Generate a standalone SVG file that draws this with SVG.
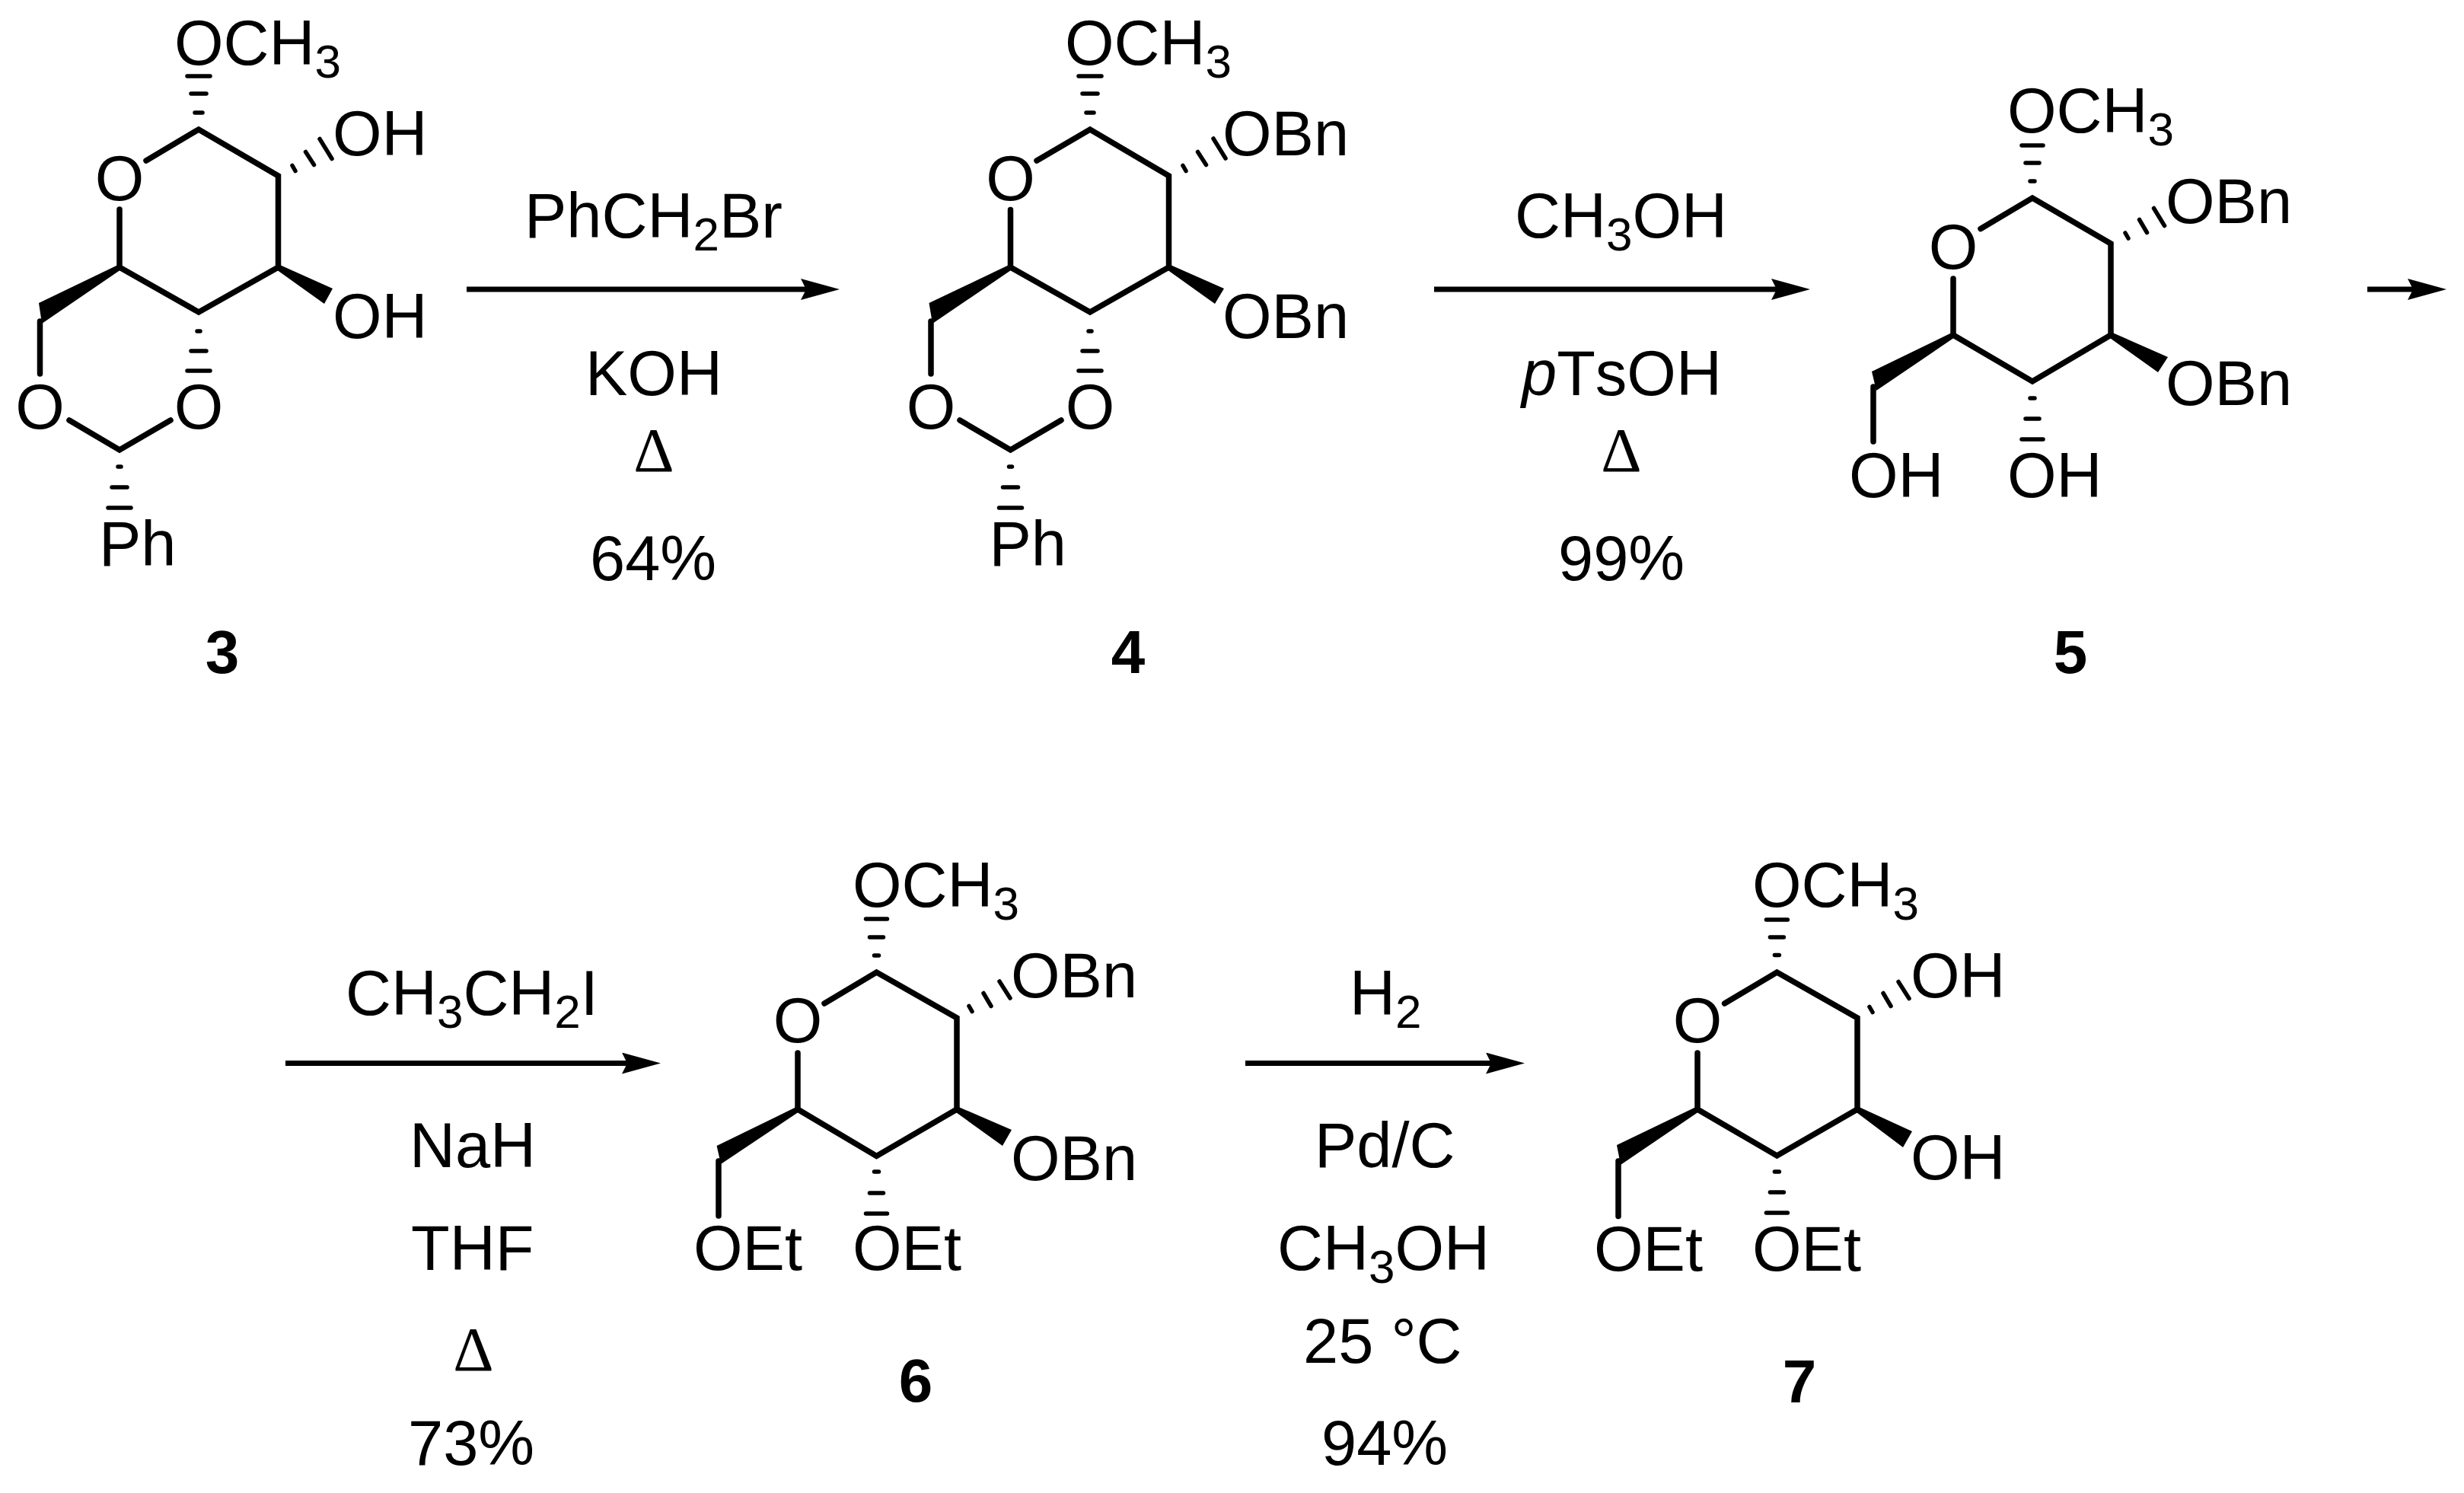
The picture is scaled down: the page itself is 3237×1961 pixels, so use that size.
<svg xmlns="http://www.w3.org/2000/svg" width="3237" height="1961" viewBox="0 0 3237 1961">
<style>
text{font-family:"Liberation Sans",Arial,sans-serif;font-size:83px;fill:#000;font-kerning:none}
.m{text-anchor:middle}
.lbl{font-weight:bold;font-size:80px;text-anchor:middle}
.d{font-family:"Liberation Serif","Times New Roman",serif;text-anchor:middle}
.s{font-size:62px}
.i{font-style:italic}
.b{fill:none;stroke:#000;stroke-width:7.5;stroke-linecap:round;stroke-linejoin:miter}
.h{fill:none;stroke:#000;stroke-width:5.5;stroke-linecap:round}
.w{fill:#000;stroke:none}
.a{fill:none;stroke:#000;stroke-width:7;marker-end:url(#head)}
</style>
<defs>
<marker id="head" markerUnits="userSpaceOnUse" markerWidth="51" markerHeight="28" viewBox="0 0 51 28" refX="21" refY="14" orient="auto">
<polygon points="0,0 51,14 0,28 7,14" fill="#000"/>
</marker>
</defs>
<rect width="3237" height="1961" fill="#fff"/>

<g id="connectors">
<line class="a" x1="613" y1="380" x2="1073" y2="380"/>
<line class="a" x1="1884" y1="380" x2="2348" y2="380"/>
<line class="a" x1="3110" y1="380" x2="3184" y2="380"/>
<line class="a" x1="375" y1="1396.5" x2="838" y2="1396.5"/>
<line class="a" x1="1636" y1="1396.5" x2="1973" y2="1396.5"/>
</g>

<g id="compound-3">
<polyline class="b" points="192,211 261,170 365.5,231 365.5,351 261,410 157,351 157,275"/>
<polyline class="b" points="91,552 157,591 224,552"/>
<line class="b" x1="52.5" y1="422" x2="52.5" y2="491"/>
<polygon class="w" points="157,347 51,398 55,425 159,354"/>
<polygon class="w" points="365.5,347 437,379 426,399 363,354"/>
<path class="h" d="M256,148H266M251,123H271M246,100H276M259,435H263M251,461H271M246,487H276M155,613H159M147,640H167M142,667H172M384,217.500L388,224.500M401.500,199.500L412.500,216.500M420,182.500L436,208.500"/>
<text x="229" y="85">OCH<tspan class="s" dy="17">3</tspan></text>
<text x="437" y="204">OH</text>
<text x="437" y="444">OH</text>
<text class="m" x="157" y="263">O</text>
<text class="m" x="52.500" y="563">O</text>
<text class="m" x="261" y="563">O</text>
<text x="130" y="743">Ph</text>
<text class="lbl" x="292" y="884">3</text>
</g>

<g id="compound-4">
<polyline class="b" points="1362,211 1432,170 1535.500,231 1535.500,351 1432,410 1327.500,351 1327.500,275.500"/>
<polyline class="b" points="1261,552 1327.500,591 1394,552"/>
<line class="b" x1="1223" y1="422" x2="1223" y2="491"/>
<polygon class="w" points="1327.500,347 1220.500,398 1225,425 1329.500,354"/>
<polygon class="w" points="1535.500,347 1608,379 1596,399 1533,354"/>
<path class="h" d="M1427,148H1437M1422,123H1442M1417,100H1447M1430,435H1434M1422,461H1442M1417,487H1447M1325.500,613H1329.500M1317.500,640H1337.500M1312.500,667H1342.500M1554,217.500L1558,224.500M1573.500,199.500L1584.500,216.500M1594,182L1610,208"/>
<text x="1399" y="85">OCH<tspan class="s" dy="17">3</tspan></text>
<text x="1606" y="204">OBn</text>
<text x="1606" y="444">OBn</text>
<text class="m" x="1327.500" y="263">O</text>
<text class="m" x="1223" y="563">O</text>
<text class="m" x="1432" y="563">O</text>
<text x="1299.500" y="743">Ph</text>
<text class="lbl" x="1482" y="884">4</text>
</g>

<g id="compound-5">
<polyline class="b" points="2602,300.500 2670,260 2773,320 2773,440 2670,501 2566,440 2566,366"/>
<line class="b" x1="2461" y1="508" x2="2461" y2="580"/>
<polygon class="w" points="2566,436 2459,488 2465,513 2568,443"/>
<polygon class="w" points="2773,436 2848,469 2835,489 2770.500,443"/>
<path class="h" d="M2667,238H2673M2661,214H2679M2656,191H2684M2667,523H2673M2661,550H2679M2656,577H2684M2792,306L2796,313M2810.500,288.500L2820.500,305.500M2829.500,273.500L2843.500,296.500"/>
<text x="2637" y="174">OCH<tspan class="s" dy="17">3</tspan></text>
<text x="2845" y="293">OBn</text>
<text x="2845" y="532">OBn</text>
<text class="m" x="2566" y="353">O</text>
<text x="2429" y="652.500">OH</text>
<text x="2637" y="652.500">OH</text>
<text class="lbl" x="2720" y="884">5</text>
</g>

<g id="compound-6">
<polyline class="b" points="1083,1318 1151.500,1277 1257,1337 1257,1457 1151.500,1518.500 1048,1457 1048,1383"/>
<line class="b" x1="944" y1="1525" x2="944" y2="1597"/>
<polygon class="w" points="1048,1453 941.600,1505 947,1529 1050,1460"/>
<polygon class="w" points="1257,1453 1329,1484 1317,1505 1254.500,1460"/>
<path class="h" d="M1148.500,1255H1154.500M1142.500,1231H1160.500M1137.500,1207H1165.500M1148.500,1539H1154.500M1142.500,1567H1160.500M1137.500,1594H1165.500M1273,1321.500L1277,1328.500M1292,1304.500L1302,1321.500M1313,1289L1327,1311"/>
<text x="1120" y="1190.600">OCH<tspan class="s" dy="17">3</tspan></text>
<text x="1328" y="1310">OBn</text>
<text x="1328" y="1550">OBn</text>
<text class="m" x="1048" y="1369">O</text>
<text x="911" y="1668">OEt</text>
<text x="1120" y="1668">OEt</text>
<text class="lbl" x="1203" y="1841">6</text>
</g>

<g id="compound-7">
<polyline class="b" points="2265.600,1318 2334.400,1277 2440,1337 2440,1457 2334.400,1518 2230,1457 2230,1383"/>
<line class="b" x1="2126" y1="1525" x2="2126" y2="1597.500"/>
<polygon class="w" points="2230,1453 2124,1504 2129,1530 2232,1460"/>
<polygon class="w" points="2440,1453 2512,1486 2500,1507 2437.500,1460"/>
<path class="h" d="M2331.400,1254.600H2337.400M2325.400,1231H2343.400M2320.400,1208H2348.400M2331.400,1539H2337.400M2325.400,1566H2343.400M2320.400,1593H2348.400M2456,1322.500L2460,1329.500M2474,1304.500L2484,1321.500M2494,1289.500L2508,1311.500"/>
<text x="2302" y="1191">OCH<tspan class="s" dy="17">3</tspan></text>
<text x="2510" y="1310">OH</text>
<text x="2510" y="1549">OH</text>
<text class="m" x="2230" y="1369">O</text>
<text x="2094" y="1669">OEt</text>
<text x="2302" y="1669">OEt</text>
<text class="lbl" x="2364" y="1842">7</text>
</g>

<g id="reagents-1">
<text x="689" y="312">PhCH<tspan class="s" dy="17">2</tspan><tspan dy="-17">Br</tspan></text>
<text x="769" y="519">KOH</text>
<text class="d" x="859" y="619">Δ</text>
<text x="775" y="762">64%</text>
</g>
<g id="reagents-2">
<text x="1990" y="312">CH<tspan class="s" dy="17">3</tspan><tspan dy="-17">OH</tspan></text>
<text x="1999" y="519"><tspan class="i">p</tspan>TsOH</text>
<text class="d" x="2130" y="619">Δ</text>
<text x="2047" y="762">99%</text>
</g>
<g id="reagents-3">
<text x="454" y="1333">CH<tspan class="s" dy="17">3</tspan><tspan dy="-17">CH</tspan><tspan class="s" dy="17">2</tspan><tspan dy="-17">I</tspan></text>
<text x="538" y="1532.500">NaH</text>
<text x="540" y="1668">THF</text>
<text class="d" x="622" y="1800">Δ</text>
<text x="536" y="1924">73%</text>
</g>
<g id="reagents-4">
<text x="1773" y="1333">H<tspan class="s" dy="17">2</tspan></text>
<text x="1727" y="1532.500">Pd/C</text>
<text x="1678" y="1668">CH<tspan class="s" dy="17">3</tspan><tspan dy="-17">OH</tspan></text>
<text x="1712" y="1790">25 °C</text>
<text x="1736" y="1924">94%</text>
</g>
</svg>
